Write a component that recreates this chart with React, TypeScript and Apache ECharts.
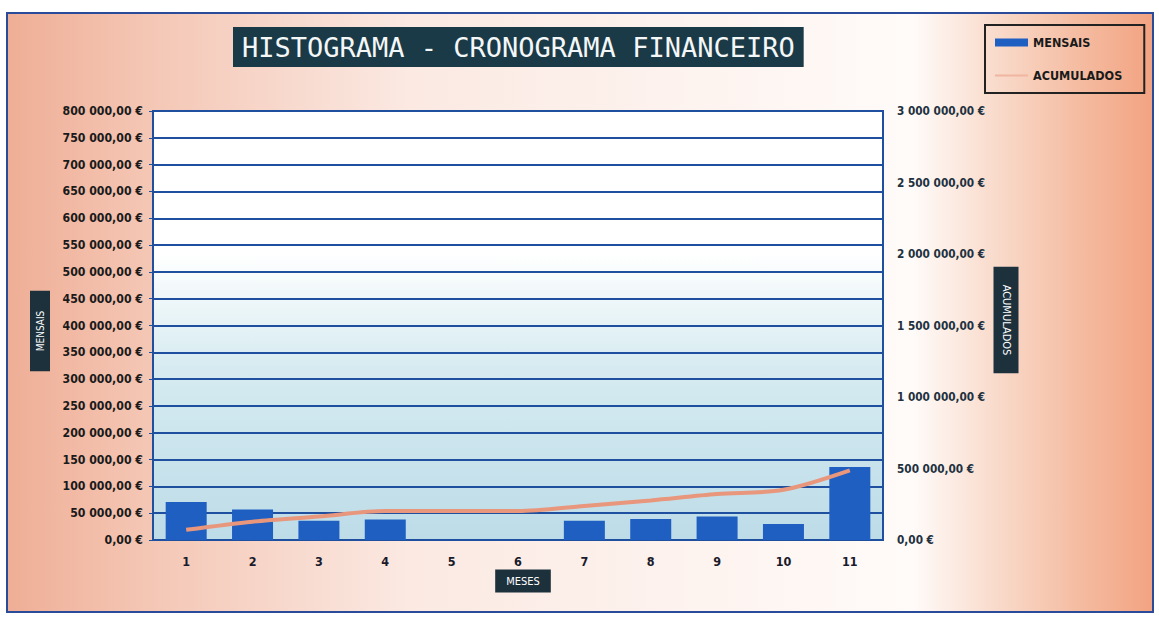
import React, { useEffect, useRef } from "react";
import * as echarts from "echarts";

const months = ["1", "2", "3", "4", "5", "6", "7", "8", "9", "10", "11"];
const mensais = [71000, 57000, 36000, 38000, 0, 0, 36000, 39000, 44000, 30000, 136000];
const acumulados = [71000, 128000, 164000, 202000, 202000, 202000, 238000, 277000, 321000, 351000, 487000];
const leftMax = 800000;
const leftStep = 50000;
const rightMax = 3000000;
const rightStep = 500000;

const titleText = "HISTOGRAMA - CRONOGRAMA FINANCEIRO";
const seriesNames = ["MENSAIS", "ACUMULADOS"];
const xName = "MESES";

const fmt = (v: number) =>
  Math.round(v).toString().replace(/\B(?=(\d{3})+(?!\d))/g, " ") + ",00 €";

const COND = "'DejaVu Sans Condensed', 'Liberation Sans Narrow', 'Liberation Sans', sans-serif";
const BLUE = "#1f4f9f";
const BOX = "#1d313c";
const SALMON = "#e8967c";

export default function App() {
  const ref = useRef<HTMLDivElement>(null);
  useEffect(() => {
    if (!ref.current) return;
    const chart = echarts.init(ref.current, undefined, { renderer: "svg" });
    const option: any = {
      animation: false,
      backgroundColor: "#ffffff",
      title: {
        text: titleText,
        left: 233,
        top: 27,
        padding: [6, 9],
        backgroundColor: "#1b3a47",
        textStyle: {
          color: "#f4f7f8",
          fontSize: 27,
          fontWeight: "normal",
          fontFamily: "'DejaVu Sans Mono', monospace",
          lineHeight: 28,
        },
      },
      legend: {
        orient: "vertical",
        left: 985,
        top: 25,
        padding: [11, 22, 11, 10],
        borderColor: "#222222",
        borderWidth: 2,
        itemWidth: 33,
        itemHeight: 8,
        itemGap: 20,
        textStyle: {
          fontFamily: COND,
          fontWeight: "bold",
          fontSize: 12.5,
          color: "#1a1a1a",
        },
        data: [
          { name: seriesNames[0], icon: "rect" },
          { name: seriesNames[1], icon: "path://M0,0 L33,0 L33,2 L0,2 Z", itemStyle: { color: "#efb6a2" } },
        ],
      },
      grid: {
        left: 153,
        right: 276,
        top: 111,
        bottom: 78,
        show: true,
        borderColor: BLUE,
        borderWidth: 2,
        backgroundColor: {
          type: "linear",
          x: 0,
          y: 0,
          x2: 0,
          y2: 1,
          colorStops: [
            { offset: 0, color: "#ffffff" },
            { offset: 0.33, color: "#ffffff" },
            { offset: 0.6, color: "#d6ebf1" },
            { offset: 1, color: "#bddce8" },
          ],
        },
      },
      xAxis: {
        type: "category",
        data: months,
        axisLine: { show: true, lineStyle: { color: BLUE, width: 2 } },
        axisTick: { show: false },
        axisLabel: {
          margin: 15,
          fontFamily: COND,
          fontWeight: "bold",
          fontSize: 12.5,
          color: "#1a1a2a",
        },
      },
      yAxis: [
        {
          type: "value",
          position: "left",
          min: 0,
          max: leftMax,
          interval: leftStep,
          axisLine: { show: true, lineStyle: { color: BLUE, width: 2 } },
          axisTick: { show: true, length: 4, lineStyle: { color: BLUE } },
          splitLine: { show: true, lineStyle: { color: BLUE, width: 2 } },
          axisLabel: {
            formatter: fmt,
            margin: 10,
            fontFamily: COND,
            fontWeight: "bold",
            fontSize: 12.2,
            color: "#1a1a1a",
          },
        },
        {
          type: "value",
          position: "right",
          min: 0,
          max: rightMax,
          interval: rightStep,
          axisLine: { show: true, lineStyle: { color: BLUE, width: 2 } },
          axisTick: { show: false },
          splitLine: { show: false },
          axisLabel: {
            formatter: fmt,
            margin: 14,
            fontFamily: COND,
            fontWeight: "bold",
            fontSize: 11.7,
            color: "#22313f",
          },
        },
      ],
      series: [
        {
          name: seriesNames[0],
          type: "bar",
          data: mensais,
          barWidth: 41,
          yAxisIndex: 0,
          itemStyle: { color: "#1f5fc2" },
          z: 2,
        },
        {
          name: seriesNames[1],
          type: "line",
          data: acumulados,
          yAxisIndex: 1,
          smooth: 0.3,
          showSymbol: false,
          symbol: "none",
          lineStyle: { color: SALMON, width: 4 },
          itemStyle: { color: SALMON },
          z: 3,
        },
      ],
      graphic: [
        {
          type: "rect",
          z: -10,
          silent: true,
          shape: { x: 7, y: 13, width: 1146, height: 599 },
          style: {
            fill: {
              type: "linear",
              x: 0,
              y: 0,
              x2: 1,
              y2: 0,
              colorStops: [
                { offset: 0, color: "#efae96" },
                { offset: 0.12, color: "#f4c6b4" },
                { offset: 0.35, color: "#fbe9e2" },
                { offset: 0.6, color: "#fdf3ef" },
                { offset: 0.79, color: "#fffbf9" },
                { offset: 0.86, color: "#f9dccd" },
                { offset: 0.93, color: "#f5bea4" },
                { offset: 1, color: "#f2a381" },
              ],
            },
            stroke: "#2a4a9a",
            lineWidth: 2,
          },
        },
        {
          type: "text",
          x: 40,
          y: 331,
          rotation: Math.PI / 2,
          z: 10,
          style: {
            text: seriesNames[0],
            fill: "#ffffff",
            font: "10px " + COND,
            align: "center",
            verticalAlign: "middle",
            backgroundColor: BOX,
            padding: [5, 20],
          },
        },
        {
          type: "text",
          x: 1006,
          y: 320,
          rotation: -Math.PI / 2,
          z: 10,
          style: {
            text: seriesNames[1],
            fill: "#ffffff",
            font: "11px " + COND,
            align: "center",
            verticalAlign: "middle",
            backgroundColor: BOX,
            padding: [7, 18],
          },
        },
        {
          type: "text",
          x: 523,
          y: 581,
          z: 10,
          style: {
            text: xName,
            fill: "#ffffff",
            font: "11px " + COND,
            align: "center",
            verticalAlign: "middle",
            backgroundColor: BOX,
            padding: [6, 11],
          },
        },
      ],
    };
    chart.setOption(option);
    return () => chart.dispose();
  }, []);
  return (
    <div
      ref={ref}
      style={{ position: "absolute", left: 0, top: 0, width: 1159, height: 618 }}
    />
  );
}
